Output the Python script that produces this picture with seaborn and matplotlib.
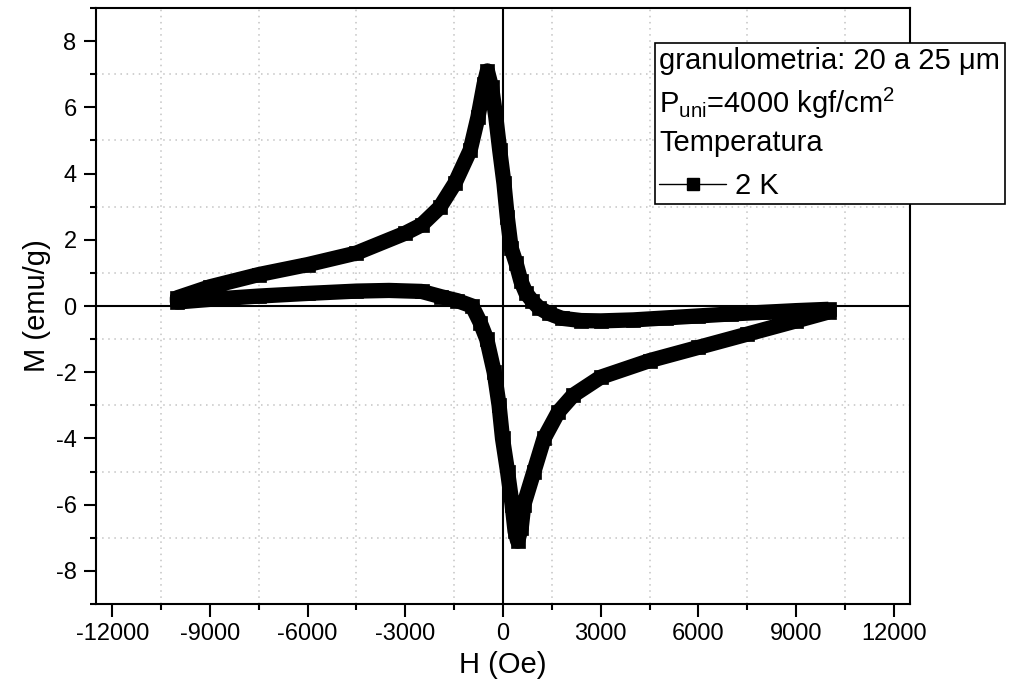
import matplotlib
matplotlib.use("Agg")
import matplotlib.pyplot as plt
from matplotlib.lines import Line2D
from matplotlib.ticker import MultipleLocator
import pandas as pd
import seaborn as sns

# field sweep down (+10 kOe -> -10 kOe)
H_DOWN = [10000, 9000, 8000, 7000, 6000, 5000, 4000, 3000, 2400, 1800, 1400,
          1100, 900, 700, 550, 400, 250, 130, 30, -100, -220, -350, -480,
          -580, -770, -1010, -1480, -1940, -2500, -3000, -4500, -6000,
          -7500, -9000, -10000]
M_DOWN = [-0.10, -0.14, -0.19, -0.24, -0.30, -0.36, -0.42, -0.45, -0.44,
          -0.37, -0.22, -0.05, 0.15, 0.40, 0.75, 1.30, 1.75, 2.70, 3.70,
          4.70, 5.70, 6.60, 7.10, 6.70, 5.70, 4.70, 3.70, 2.98, 2.45, 2.20,
          1.60, 1.25, 0.95, 0.58, 0.25]

# field sweep up (-10 kOe -> +10 kOe)
H_UP = [-10000, -9000, -7500, -6000, -4500, -3500, -2500, -1900, -1400,
        -950, -700, -500, -270, -120, -15, 140, 280, 370, 450, 560, 640,
        950, 1260, 1700, 2150, 3000, 4500, 6000, 7500, 9000, 10000]
M_UP = [0.12, 0.20, 0.30, 0.38, 0.45, 0.47, 0.44, 0.28, 0.16, 0.00, -0.50,
        -1.00, -2.00, -3.00, -4.00, -5.00, -6.00, -6.80, -7.10, -6.70,
        -6.00, -5.00, -4.00, -3.20, -2.70, -2.15, -1.65, -1.25, -0.85,
        -0.45, -0.18]

X_MAJOR = [-12000, -9000, -6000, -3000, 0, 3000, 6000, 9000, 12000]
Y_MAJOR = [-8, -6, -4, -2, 0, 2, 4, 6, 8]

LEGEND_TITLE = "granulometria: 20 a 25 \u03bcm\nP$_{uni}$=4000 kgf/cm$^{2}$\nTemperatura"
SERIES_LABEL = "2 K"

sns.set_style("ticks")
plt.rcParams["font.family"] = ["Liberation Sans", "DejaVu Sans"]
plt.rcParams["mathtext.default"] = "regular"
plt.rcParams["axes.unicode_minus"] = False
plt.rcParams["text.color"] = "black"
plt.rcParams["axes.labelcolor"] = "black"
plt.rcParams["xtick.color"] = "black"
plt.rcParams["ytick.color"] = "black"

df = pd.DataFrame({"H": H_DOWN + H_UP, "M": M_DOWN + M_UP})

fig = plt.figure(figsize=(10.11, 6.98), dpi=100)
ax = fig.add_axes([96 / 1011, 1 - 604 / 698, (910 - 96) / 1011, (604 - 8) / 698])

ax.axhline(0, color="black", lw=1.5, zorder=1)
ax.axvline(0, color="black", lw=1.5, zorder=1)

sns.lineplot(data=df, x="H", y="M", sort=False, estimator=None, color="black",
             lw=11, marker="s", markersize=10.5, markeredgewidth=0.5,
             markeredgecolor="black", markerfacecolor="black",
             solid_joinstyle="round", solid_capstyle="butt", ax=ax,
             legend=False, zorder=3)

ax.set_xlim(-12500, 12500)
ax.set_ylim(-9, 9)
ax.set_xticks(X_MAJOR)
ax.set_yticks(Y_MAJOR)
ax.xaxis.set_minor_locator(MultipleLocator(1500))
ax.yaxis.set_minor_locator(MultipleLocator(1))
ax.grid(False)
ax.grid(which="minor", color="#c4c4c4", ls=(0, (1, 3)), lw=1.1)
ax.set_axisbelow(True)

ax.tick_params(which="major", direction="out", length=9, width=1.5,
               labelsize=17, pad=5, top=False, right=False)
ax.tick_params(which="minor", direction="out", length=4.5, width=1.5,
               top=False, right=False)
for s in ax.spines.values():
    s.set_linewidth(1.5)
    s.set_color("black")

ax.set_xlabel("H (Oe)", fontsize=21, labelpad=4)
ax.set_ylabel("M (emu/g)", fontsize=21, labelpad=3)

handle = Line2D([], [], color="black", lw=1, marker="s", markersize=9)
leg = fig.legend([handle], [SERIES_LABEL], title=LEGEND_TITLE,
                 loc="upper left", bbox_to_anchor=(655 / 1011, 1 - 43 / 698),
                 borderaxespad=0, fontsize=21, title_fontsize=21,
                 alignment="left", fancybox=False, framealpha=1,
                 edgecolor="black", handlelength=2.3, handletextpad=0.3,
                 borderpad=0.15)
leg.get_frame().set_linewidth(1.2)
leg.get_title().set_linespacing(1.38)

fig.savefig("out.png", dpi=100)
